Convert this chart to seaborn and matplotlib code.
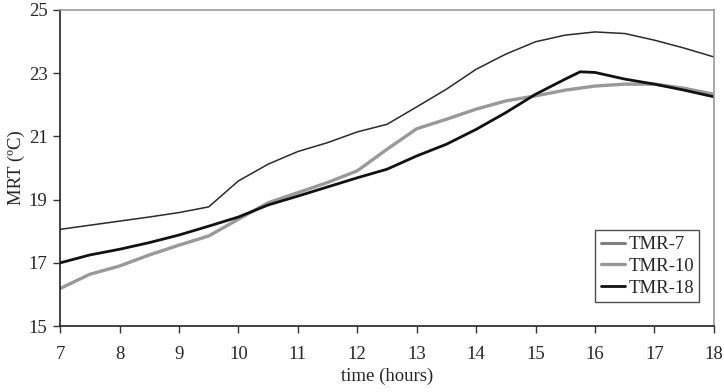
import numpy as np
import pandas as pd
import seaborn as sns
import matplotlib.pyplot as plt

hours = [7, 7.5, 8, 8.5, 9, 9.5, 10, 10.5, 11, 11.5, 12, 12.5, 13, 13.5,
         14, 14.5, 15, 15.5, 16, 16.5, 17, 17.5, 18]
tmr7 = [18.06, 18.19, 18.32, 18.45, 18.59, 18.77, 19.59, 20.12, 20.52, 20.80,
        21.14, 21.38, 21.93, 22.49, 23.12, 23.60, 23.99, 24.20, 24.30, 24.25,
        24.04, 23.79, 23.51]
tmr10 = [16.19, 16.64, 16.90, 17.25, 17.56, 17.85, 18.38, 18.90, 19.22, 19.54,
         19.91, 20.59, 21.24, 21.54, 21.86, 22.12, 22.28, 22.46, 22.59, 22.65,
         22.65, 22.52, 22.33]
hours18 = [7, 7.5, 8, 8.5, 9, 9.5, 10, 10.5, 11, 11.5, 12, 12.5, 13, 13.5,
           14, 14.5, 15, 15.5, 15.75, 16, 16.5, 17, 17.5, 18]
tmr18 = [17.00, 17.25, 17.43, 17.64, 17.88, 18.16, 18.45, 18.83, 19.11, 19.40,
         19.69, 19.96, 20.38, 20.75, 21.22, 21.75, 22.33, 22.81, 23.04, 23.02,
         22.81, 22.65, 22.46, 22.25]

sns.set_style("white")
plt.rcParams['font.family'] = ['Liberation Serif', 'DejaVu Serif']
fs = 13.5

fig, ax = plt.subplots(figsize=(7.24, 3.92), dpi=100)

sns.lineplot(x=hours, y=tmr7, ax=ax, color="#2a2a2a", lw=1.1, label="TMR-7")
sns.lineplot(x=hours, y=tmr10, ax=ax, color="#999999", lw=2.4, label="TMR-10")
sns.lineplot(x=hours18, y=tmr18, ax=ax, color="#111111", lw=2.0, label="TMR-18")

ax.set_xlim(7, 18)
ax.set_ylim(15, 25)
ax.set_xticks(range(7, 19))
ax.set_yticks(range(15, 26, 2))
ax.set_xlabel("time (hours)", fontsize=fs, labelpad=4)
ax.set_ylabel("MRT (ºC)", fontsize=fs, labelpad=3)
ax.tick_params(axis='both', direction='out', length=5, width=1,
               labelsize=fs, color="#333333", bottom=True, left=True)
ax.tick_params(axis='x', pad=9)
ax.tick_params(axis='y', pad=4)

for side in ["left", "bottom"]:
    ax.spines[side].set_color("#222222")
    ax.spines[side].set_linewidth(1.2)
for side in ["top", "right"]:
    ax.spines[side].set_color("#999999")
    ax.spines[side].set_linewidth(1.2)

leg = ax.legend(loc="lower right", bbox_to_anchor=(0.978, 0.075), fontsize=fs,
                frameon=True, fancybox=False, edgecolor="#222222",
                handlelength=1.3, handletextpad=0.15, borderpad=0.3,
                borderaxespad=0, labelspacing=0.25)
leg.get_frame().set_linewidth(1.0)
# legend key for TMR-7 is drawn as a grey stroke in the original
leg.legend_handles[0].set_color("#808080")
leg.legend_handles[0].set_linewidth(2.2)

fig.subplots_adjust(left=0.083, right=0.986, top=0.975, bottom=0.168)
fig.savefig("out.png", dpi=100)
